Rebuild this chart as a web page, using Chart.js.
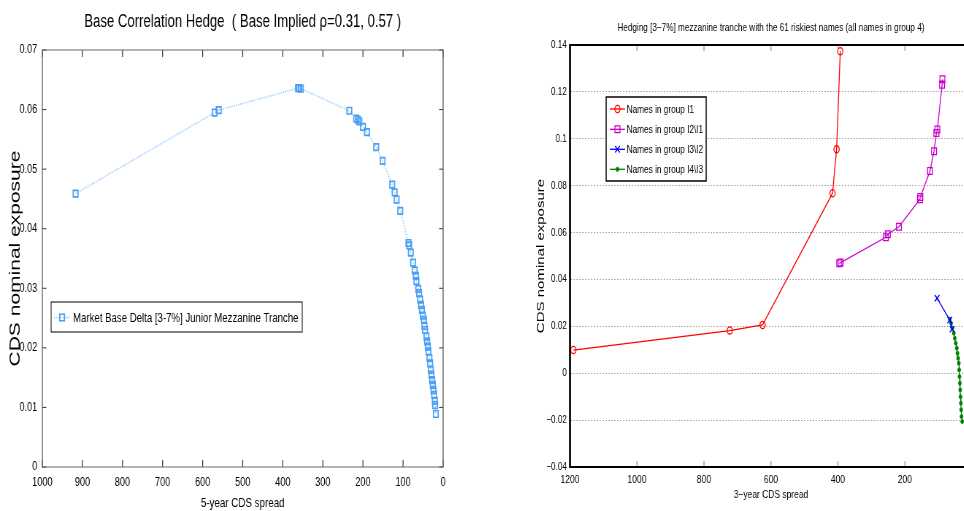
<!DOCTYPE html>
<html><head><meta charset="utf-8">
<script src="https://cdn.jsdelivr.net/npm/chart.js@4.4.1/dist/chart.umd.min.js"></script>
<style>
html,body{margin:0;padding:0;background:#fff;overflow:hidden;width:964px;height:511px;position:relative;}
.wrap{position:absolute;top:0;transform:scaleX(0.73);transform-origin:0 0;}
</style></head><body>
<div class="wrap" style="left:0px"><canvas id="c1" width="658" height="511"></canvas></div>
<div class="wrap" style="left:520px"><canvas id="c2" width="644" height="511"></canvas></div>
<script>
// ---------- left chart data ----------
const leftTitle = 'Base Correlation Hedge  ( Base Implied \u03C1=0.31, 0.57 )';
const leftXLabel = '5-year CDS spread';
const yLabel = 'CDS nominal exposure';
const leftSeriesName = 'Market Base Delta [3-7%] Junior Mezzanine Tranche';
const leftXTicks = [1000, 900, 800, 700, 600, 500, 400, 300, 200, 100, 0];
const leftYTicks = [0, 0.01, 0.02, 0.03, 0.04, 0.05, 0.06, 0.07];
const leftSpread = [917, 570, 560, 362, 359, 355, 234, 217, 213, 209, 200, 190, 167, 151, 127, 121, 116, 107,
  86.6, 84.5, 80.6, 75, 71, 68, 66.5, 62, 60, 57.4, 55, 53, 50.6, 48, 46.6, 45, 41.6, 40, 38.2, 36.7, 34.2,
  32.4, 30.7, 29.2, 27.4, 25.7, 24.2, 22.4, 20.7, 20, 18.2];
const leftExposure = [0.0459, 0.0595, 0.0599, 0.0636, 0.0636, 0.0635, 0.0598, 0.0585, 0.0583, 0.0580, 0.0571, 0.0562, 0.0537, 0.0514, 0.0474, 0.0461, 0.0449, 0.0430,
  0.0376, 0.0372, 0.0360, 0.0343, 0.0330, 0.0321, 0.0312, 0.0299, 0.0292, 0.0281, 0.0272, 0.0264, 0.0254, 0.0247, 0.0237, 0.0230, 0.0219, 0.0211, 0.0202, 0.0194, 0.0183,
  0.0174, 0.0163, 0.0155, 0.0146, 0.0138, 0.0129, 0.0121, 0.0111, 0.0104, 0.0089];

// ---------- right chart data ----------
const rightTitle = 'Hedging [3\u22127%] mezzanine tranche with the 61 riskiest names (all names in group 4)';
const rightXLabel = '3\u2212year CDS spread';
const rightXTicks = [1200, 1000, 800, 600, 400, 200, 0];
const rightYTicks = [-0.04, -0.02, 0, 0.02, 0.04, 0.06, 0.08, 0.1, 0.12, 0.14];
const groupNames = ['Names in group I1', 'Names in group I2\\I1', 'Names in group I3\\I2', 'Names in group I4\\I3'];
const g1Spread = [1190, 723, 625, 416, 404, 393];
const g1Exposure = [0.0099, 0.0182, 0.0206, 0.0768, 0.0955, 0.1374];
const g2Spread = [396, 392, 257, 251, 218, 155, 154, 125, 113, 106, 103, 89, 88];
const g2Exposure = [0.0469, 0.0472, 0.0580, 0.0593, 0.0625, 0.0742, 0.0752, 0.0863, 0.0947, 0.1025, 0.1040, 0.1231, 0.1254];
const g3Spread = [104, 66, 59];
const g3Exposure = [0.0320, 0.0227, 0.0188];
const g4Spread = [66, 62, 58, 54, 51, 48, 45, 43, 41, 39, 38, 37, 36, 35, 34, 33, 32, 31, 29];
const g4Exposure = [0.0230, 0.0213, 0.0192, 0.0171, 0.0149, 0.0128, 0.0107, 0.0085, 0.0064, 0.0043, 0.0014, -0.0014, -0.0043, -0.0071, -0.0100, -0.0128, -0.0156, -0.0185, -0.0206];

// ---------- helpers ----------
const FONT = "'Liberation Sans',Arial,sans-serif";
const pts = (xs, ys) => xs.map((x, i) => ({ x: x, y: ys[i] }));
const fmtNum = v => {
  if (Math.abs(v) < 1e-9) return '0';
  const s = String(+Math.abs(v).toFixed(2));
  return (v < 0 ? '\u2212' : '') + s;
};
const setTicks = arr => scale => { scale.ticks = arr.map(v => ({ value: v })); };

function frameTicks(opts) {
  return {
    id: 'frameTicks' + opts.key,
    afterDatasetsDraw(chart) {
      const { ctx, chartArea: a, scales } = chart;
      ctx.save();
      ctx.setLineDash([]);
      ctx.strokeStyle = opts.tickColor;
      ctx.lineWidth = 1.2;
      scales.x.ticks.forEach(t => {
        const px = scales.x.getPixelForValue(t.value);
        ctx.beginPath();
        ctx.moveTo(px, a.bottom); ctx.lineTo(px, a.bottom - opts.xTickLen);
        ctx.moveTo(px, a.top); ctx.lineTo(px, a.top + opts.xTickLen);
        ctx.stroke();
      });
      if (opts.yTickLen) {
        ctx.lineWidth = 1;
        scales.y.ticks.forEach(t => {
          const py = scales.y.getPixelForValue(t.value);
          ctx.beginPath();
          ctx.moveTo(a.left, py); ctx.lineTo(a.left + opts.yTickLen, py);
          ctx.moveTo(a.right, py); ctx.lineTo(a.right - opts.yTickLen, py);
          ctx.stroke();
        });
      }
      ctx.strokeStyle = opts.frameColor;
      ctx.lineWidth = opts.hLine;
      ctx.beginPath();
      ctx.moveTo(a.left, a.top); ctx.lineTo(a.right, a.top);
      ctx.moveTo(a.left, a.bottom); ctx.lineTo(a.right, a.bottom);
      ctx.stroke();
      ctx.lineWidth = opts.vLine;
      ctx.beginPath();
      ctx.moveTo(a.left, a.top - opts.hLine / 2); ctx.lineTo(a.left, a.bottom + opts.hLine / 2);
      ctx.moveTo(a.right, a.top - opts.hLine / 2); ctx.lineTo(a.right, a.bottom + opts.hLine / 2);
      ctx.stroke();
      ctx.restore();
    }
  };
}

function boxLegend(opts) {
  return {
    id: 'boxLegend' + opts.key,
    afterDraw(chart) {
      const ctx = chart.ctx;
      ctx.save();
      ctx.fillStyle = '#fff';
      ctx.fillRect(opts.x, opts.y, opts.w, opts.h);
      ctx.strokeStyle = '#000';
      ctx.lineWidth = opts.border;
      ctx.setLineDash([]);
      ctx.strokeRect(opts.x, opts.y, opts.w, opts.h);
      opts.rows.forEach((rowY, i) => {
        const ds = chart.data.datasets[i];
        ctx.save();
        ctx.strokeStyle = ds.borderColor;
        ctx.lineWidth = ds.borderWidth;
        ctx.setLineDash(ds.borderDash || []);
        ctx.beginPath();
        ctx.moveTo(opts.lx0, rowY); ctx.lineTo(opts.lx1, rowY);
        ctx.stroke();
        ctx.restore();
        ctx.save();
        ctx.strokeStyle = ds.pointBorderColor;
        ctx.fillStyle = ds.pointBackgroundColor;
        ctx.lineWidth = ds.pointBorderWidth;
        Chart.helpers.drawPoint(ctx, { pointStyle: ds.pointStyle, radius: ds.pointRadius, borderWidth: ds.pointBorderWidth, rotation: 0 }, (opts.lx0 + opts.lx1) / 2, rowY);
        ctx.restore();
        ctx.fillStyle = '#000';
        ctx.font = opts.font;
        ctx.textBaseline = 'middle';
        ctx.textAlign = 'left';
        ctx.fillText(ds.label, opts.tx, rowY + 0.5);
      });
      ctx.restore();
    }
  };
}

Chart.defaults.animation = false;

// ---------- left chart ----------
new Chart(document.getElementById('c1'), {
  type: 'scatter',
  data: {
    datasets: [{
      label: leftSeriesName,
      data: pts(leftSpread, leftExposure),
      showLine: true,
      borderColor: '#9ccbff',
      borderWidth: 1.6,
      borderDash: [1.5, 1.5],
      pointStyle: 'rect',
      pointRadius: 4.6,
      pointBorderColor: '#4a9ff5',
      pointBackgroundColor: 'rgba(255,255,255,0)',
      pointBorderWidth: 1.7,
      clip: false
    }]
  },
  options: {
    responsive: false,
    devicePixelRatio: 1,
    events: [],
    layout: { padding: { left: 0, right: 51, top: 0, bottom: 0 } },
    plugins: {
      legend: { display: false },
      tooltip: { enabled: false },
      title: {
        display: true, text: leftTitle, color: '#000', fullSize: false,
        font: { family: FONT, size: 18, weight: 'normal' },
        padding: { top: 11, bottom: 17.4 }
      }
    },
    scales: {
      x: {
        type: 'linear', reverse: true, min: 0, max: 1000,
        afterBuildTicks: setTicks(leftXTicks),
        afterFit: s => { s.height = 44; },
        ticks: { color: '#000', font: { family: FONT, size: 12.5 }, padding: 8, maxRotation: 0, autoSkip: false, callback: v => String(v) },
        grid: { display: false, drawTicks: false },
        border: { display: false },
        title: { display: true, text: leftXLabel, color: '#000', font: { family: FONT, size: 13.4 }, padding: { top: 0, bottom: 0 } }
      },
      y: {
        type: 'linear', min: 0, max: 0.07,
        afterBuildTicks: setTicks(leftYTicks),
        afterFit: s => { s.width = 58; },
        ticks: { color: '#000', font: { family: FONT, size: 12.5 }, padding: 7, autoSkip: false, callback: fmtNum },
        grid: { display: false, drawTicks: false },
        border: { display: false },
        title: { display: true, text: yLabel, color: '#000', font: { family: FONT, size: 21 }, padding: { top: 9, bottom: 0 } }
      }
    }
  },
  plugins: [
    frameTicks({ key: 'L', tickColor: '#333', frameColor: '#666', xTickLen: 7, yTickLen: 5.5, hLine: 1, vLine: 1.4 }),
    boxLegend({ key: 'L', x: 70, y: 302, w: 344, h: 30, border: 1, rows: [317.5], lx0: 74, lx1: 96, tx: 100, font: '13.2px ' + FONT })
  ]
});

// ---------- right chart ----------
const mk = (label, xs, ys, color, style, r, bg, bw) => ({
  label: label, data: pts(xs, ys), showLine: true,
  borderColor: color, borderWidth: 1.3,
  pointStyle: style, pointRadius: r,
  pointBorderColor: color, pointBackgroundColor: bg, pointBorderWidth: bw,
  clip: false
});

new Chart(document.getElementById('c2'), {
  type: 'scatter',
  data: {
    datasets: [
      mk(groupNames[0], g1Spread, g1Exposure, '#ff0000', 'circle', 3.6, 'rgba(255,255,255,0)', 1.3),
      mk(groupNames[1], g2Spread, g2Exposure, '#cc00cc', 'rect', 4.8, 'rgba(255,255,255,0)', 1.3),
      mk(groupNames[2], g3Spread, g3Exposure, '#0000ff', 'crossRot', 4.5, 'rgba(255,255,255,0)', 1.4),
      mk(groupNames[3], g4Spread, g4Exposure, '#008000', 'circle', 2.0, '#008000', 1)
    ]
  },
  options: {
    responsive: false,
    devicePixelRatio: 1,
    events: [],
    layout: { padding: { left: 0, right: 25, top: 0, bottom: 0 } },
    plugins: {
      legend: { display: false },
      tooltip: { enabled: false },
      title: {
        display: true, text: rightTitle, color: '#000', fullSize: false,
        font: { family: FONT, size: 11.2, weight: 'normal' },
        padding: { top: 21, bottom: 10.6 }
      }
    },
    scales: {
      x: {
        type: 'linear', reverse: true, min: 0, max: 1200,
        afterBuildTicks: setTicks(rightXTicks),
        afterFit: s => { s.height = 44; },
        ticks: { color: '#000', font: { family: FONT, size: 11.6 }, padding: 6, maxRotation: 0, autoSkip: false, callback: v => String(v) },
        grid: { display: false, drawTicks: false },
        border: { display: false },
        title: { display: true, text: rightXLabel, color: '#000', font: { family: FONT, size: 11.6 }, padding: { top: 0, bottom: 9.5 } }
      },
      y: {
        type: 'linear', min: -0.04, max: 0.14,
        afterBuildTicks: setTicks(rightYTicks),
        afterFit: s => { s.width = 68.5; },
        ticks: { color: '#000', font: { family: FONT, size: 11 }, padding: 4.5, autoSkip: false, callback: fmtNum },
        grid: { display: true, drawTicks: false, color: '#a8a8a8', lineWidth: 1 },
        border: { display: false, dash: [2, 2] },
        title: { display: true, text: yLabel, color: '#000', font: { family: FONT, size: 15 }, padding: { top: 19.8, bottom: 0 } }
      }
    }
  },
  plugins: [
    frameTicks({ key: 'R', tickColor: '#888', frameColor: '#000', xTickLen: 6, yTickLen: 0, hLine: 2, vLine: 2.7 }),
    boxLegend({ key: 'R', x: 118, y: 97, w: 137, h: 84, border: 1.5, rows: [109, 129.3, 149.3, 169.3], lx0: 123, lx1: 144, tx: 146, font: '11.3px ' + FONT })
  ]
});
</script>
</body></html>
